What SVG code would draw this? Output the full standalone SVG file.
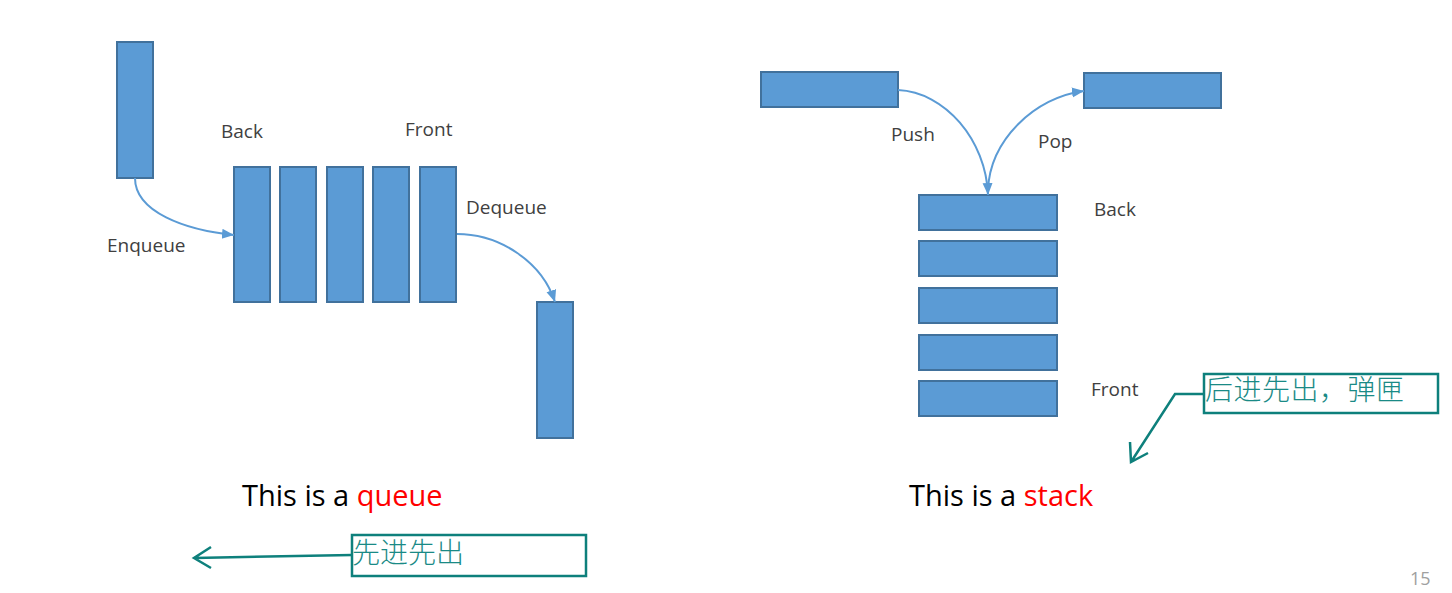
<svg xmlns="http://www.w3.org/2000/svg" width="1452" height="593" viewBox="0 0 1452 593">
<style>
.box{fill:#5B9BD5;stroke:#41719C;stroke-width:2}
.lbl{font-family:"Open Sans","Noto Sans",sans-serif;font-size:19px;fill:#404040}
.title{font-family:"Open Sans","Noto Sans",sans-serif;font-size:29px;fill:#000}
.red{fill:#FF0000}
.conn{fill:none;stroke:#5B9BD5;stroke-width:2}
.note{fill:#fff;stroke:#0E807C;stroke-width:2.5}
.notetext{font-family:"Noto Sans CJK SC",sans-serif;font-size:28px;font-weight:300;fill:#1A8A86}
.callout{fill:none;stroke:#0E807C;stroke-width:2.5}
</style>
<defs>
<marker id="ah" markerUnits="userSpaceOnUse" markerWidth="14" markerHeight="12" refX="12" refY="5" orient="auto">
<path d="M0,0 L12,5 L0,10 z" fill="#5B9BD5"/>
</marker>
</defs>
<rect width="1452" height="593" fill="#fff"/>

<g id="queue-in"><rect class="box" x="117" y="42" width="36" height="136"/></g>
<g id="queue-1"><rect class="box" x="234" y="167" width="36" height="135"/></g>
<g id="queue-2"><rect class="box" x="280" y="167" width="36" height="135"/></g>
<g id="queue-3"><rect class="box" x="327" y="167" width="36" height="135"/></g>
<g id="queue-4"><rect class="box" x="373" y="167" width="36" height="135"/></g>
<g id="queue-5"><rect class="box" x="420" y="167" width="36" height="135"/></g>
<g id="queue-out"><rect class="box" x="537" y="302" width="36" height="136"/></g>

<g id="stack-in"><rect class="box" x="761" y="72" width="137" height="35"/></g>
<g id="stack-out"><rect class="box" x="1084" y="73" width="137" height="35"/></g>
<g id="stack-1"><rect class="box" x="919" y="195" width="138" height="35"/></g>
<g id="stack-2"><rect class="box" x="919" y="241" width="138" height="35"/></g>
<g id="stack-3"><rect class="box" x="919" y="288" width="138" height="35"/></g>
<g id="stack-4"><rect class="box" x="919" y="335" width="138" height="35"/></g>
<g id="stack-5"><rect class="box" x="919" y="381" width="138" height="35"/></g>

<g id="connectors">
<path class="conn" d="M135,178 C135,212 185,230 234,235" marker-end="url(#ah)"/>
<path class="conn" d="M457,234 C500,234 542,262 555,302" marker-end="url(#ah)"/>
<path class="conn" d="M898,90 C945,92 986,140 988,195" marker-end="url(#ah)"/>
<path class="conn" d="M988,190 C990,140 1035,97 1084,91" marker-end="url(#ah)"/>
</g>

<g id="labels">
<text class="lbl" x="221" y="138">Back</text>
<text class="lbl" x="405" y="136">Front</text>
<text class="lbl" x="466" y="214">Dequeue</text>
<text class="lbl" x="107" y="252">Enqueue</text>
<text class="lbl" x="891" y="141">Push</text>
<text class="lbl" x="1038" y="148">Pop</text>
<text class="lbl" x="1094" y="216">Back</text>
<text class="lbl" x="1091" y="396">Front</text>
</g>

<g id="titles">
<text class="title" x="242" y="506">This is a <tspan class="red">queue</tspan></text>
<text class="title" x="909" y="506">This is a <tspan class="red">stack</tspan></text>
</g>

<g id="note-fifo">
<path class="callout" d="M352,555 L194,558 M211,547 L194,558 L211,568"/>
<rect class="note" x="352" y="535" width="234" height="41"/>
<text class="notetext" x="352" y="563">先进先出</text>
</g>

<g id="note-lifo">
<path class="callout" d="M1204,394 L1175,394 L1131,462 M1130,442 L1131,462 L1148,453"/>
<rect class="note" x="1204" y="374" width="234" height="39"/>
<text class="notetext" x="1205" y="400" letter-spacing="0.5">后进先出，弹匣</text>
</g>

<text x="1410" y="585" font-family="Open Sans, sans-serif" font-size="18" fill="#A0A0A0">15</text>
</svg>
